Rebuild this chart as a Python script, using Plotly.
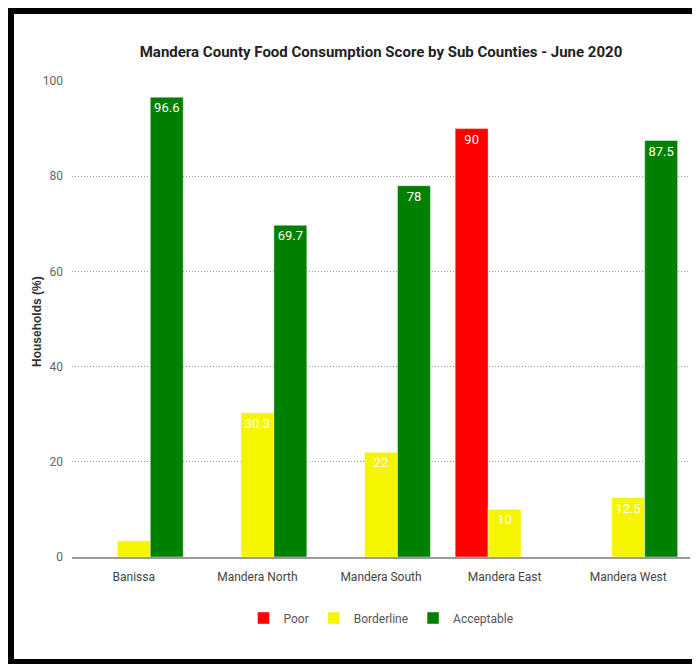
import plotly.graph_objects as go

categories = ["Banissa", "Mandera North", "Mandera South", "Mandera East", "Mandera West"]
poor = [0, 0, 0, 90, 0]
borderline = [3.4, 30.3, 22, 10, 12.5]
acceptable = [96.6, 69.7, 78, 0, 87.5]

series_names = ["Poor", "Borderline", "Acceptable"]
series_colors = ["#FF0000", "#F5F500", "#008000"]

OFF = 8  # page body margin offset
W, H = 700 - OFF, 664 - OFF
L, R, T, B = 72 - OFF, 10, 81 - OFF, 107


def px(x):
    return (x - OFF - L) / (W - L - R)


def py(y):
    return (H - B - (y - OFF)) / (H - T - B)


FONT = "Roboto, sans-serif"

fig = go.Figure()
for name, vals, col in zip(series_names, [poor, borderline, acceptable], series_colors):
    labels = [("%g" % v) if v >= 5 else "" for v in vals]
    fig.add_trace(go.Bar(
        name=name, x=categories, y=vals, text=labels,
        textposition="inside", insidetextanchor="end", textangle=0,
        textfont=dict(color="white", size=13, family=FONT, weight="normal"),
        marker=dict(color=col, line=dict(color="rgba(255,255,255,0.45)", width=1)),
        cliponaxis=False,
    ))

fig.update_layout(
    width=W, height=H,
    margin=dict(l=L, r=R, t=T, b=B, pad=0),
    paper_bgcolor="white", plot_bgcolor="white",
    barmode="group", bargap=0.2, bargroupgap=0,
    font=dict(family=FONT, size=12, color="#444"),
    title=dict(text="<b>Mandera County Food Consumption Score by Sub Counties - June 2020</b>",
               x=0.5, xref="paper", xanchor="center",
               y=1 - (52 - OFF) / H, yref="container", yanchor="middle",
               font=dict(size=15, color="#222", family=FONT)),
    legend=dict(orientation="h", x=0.5, xanchor="center", y=py(618), yanchor="middle",
                font=dict(size=12, color="#555", family=FONT), itemwidth=30,
                traceorder="normal"),
    xaxis=dict(showline=True, linecolor="#999", linewidth=1.5, ticks="",
               showgrid=False, tickfont=dict(size=12, color="#444"), ticklabelstandoff=8),
    yaxis=dict(range=[0, 100], dtick=20, showgrid=True, gridcolor="#999",
               griddash="1px,2px", gridwidth=1, zeroline=False, showline=False,
               ticks="", tickfont=dict(size=12, color="#666"), ticklabelstandoff=8),
    annotations=[dict(text="<b>Households (%)</b>", textangle=-90, xref="paper", yref="paper",
                      x=px(37), y=py(322), xanchor="center", yanchor="middle", showarrow=False,
                      font=dict(size=12, color="#333", family="Liberation Sans, Arial, sans-serif"))],
    shapes=[
        # thick black frame
        dict(type="rect", xref="paper", yref="paper", x0=px(8), x1=px(700), y0=py(8), y1=py(14),
             fillcolor="black", line=dict(width=0)),
        dict(type="rect", xref="paper", yref="paper", x0=px(8), x1=px(14), y0=py(8), y1=py(664),
             fillcolor="black", line=dict(width=0)),
        dict(type="rect", xref="paper", yref="paper", x0=px(8), x1=px(700), y0=py(659), y1=py(664),
             fillcolor="black", line=dict(width=0)),
    ],
)

fig.write_html("out.html")
